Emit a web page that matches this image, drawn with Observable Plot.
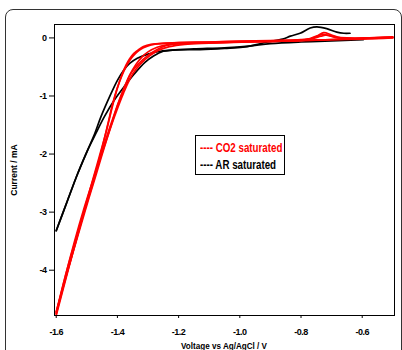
<!DOCTYPE html>
<html><head><meta charset="utf-8">
<script src="https://cdn.jsdelivr.net/npm/d3@7"></script>
<script src="https://cdn.jsdelivr.net/npm/@observablehq/plot@0.6"></script>
<style>
body{margin:0;background:#fff;}
#wrap{position:relative;width:402px;height:350px;overflow:hidden;font-family:"Liberation Sans",Arial,sans-serif;}
#chart{position:absolute;left:0;top:0;}
#chart svg text{letter-spacing:-0.5px;}
#border{position:absolute;left:5px;top:9px;width:395px;height:370px;border:1px solid #333;border-radius:8px;}
#legend{position:absolute;left:195px;top:135px;width:90px;height:40px;border:1px solid #000;background:#fff;font-weight:bold;font-size:12.5px;line-height:16.5px;padding:4px 0 0 4px;box-sizing:border-box;white-space:nowrap;}
#legend span{display:inline-block;transform:scaleX(0.78);transform-origin:0 50%;}
#ylab{position:absolute;left:14px;top:170px;transform:translate(-50%,-50%) rotate(-90deg);font-weight:bold;font-size:8.5px;white-space:nowrap;}
#xlab{position:absolute;left:224px;top:341px;transform:translateX(-50%) scaleX(0.9);font-weight:bold;font-size:9px;white-space:nowrap;}
</style></head>
<body>
<div id="wrap">
<div id="border"></div>
<div id="chart"></div>
<div id="legend"><div style="color:#f00"><span>---- CO2 saturated</span></div><div style="color:#000"><span>---- AR saturated</span></div></div>
<div id="ylab">Current / mA</div>
<div id="xlab">Voltage vs Ag/AgCl / V</div>
</div>
<script>
// tick values
const xTicks = [-1.6, -1.4, -1.2, -1.0, -0.8, -0.6];
const yTicks = [0, -1, -2, -3, -4];

// AR saturated (black)
const arCathV = [-0.597,-0.70,-0.80,-0.90,-0.97,-1.05,-1.15,-1.22,-1.25,-1.282,-1.31,-1.345,-1.378,-1.41,-1.443,-1.47,-1.498,-1.53,-1.563,-1.60];
const arCathI = [-0.03,-0.05,-0.07,-0.10,-0.14,-0.17,-0.19,-0.21,-0.23,-0.31,-0.42,-0.62,-0.84,-1.07,-1.36,-1.64,-1.94,-2.34,-2.80,-3.32];
const arAnoV = [-1.60,-1.563,-1.53,-1.498,-1.475,-1.454,-1.421,-1.40,-1.38,-1.36,-1.335,-1.30,-1.26,-1.22,-1.13,-1.05,-0.99,-0.95,-0.91,-0.86,-0.835,-0.803,-0.77,-0.748,-0.716,-0.683,-0.66,-0.64];
const arAnoI = [-3.32,-2.80,-2.34,-1.94,-1.66,-1.36,-0.96,-0.73,-0.56,-0.44,-0.35,-0.28,-0.23,-0.21,-0.20,-0.18,-0.16,-0.12,-0.07,-0.02,0.03,0.08,0.17,0.19,0.16,0.10,0.08,0.08];

// CO2 saturated (red), three cycles
const co2aCathV = [-0.50,-0.60,-0.70,-0.80,-0.90,-1.00,-1.10,-1.20,-1.24,-1.27,-1.30,-1.33,-1.356,-1.389,-1.421,-1.45,-1.48,-1.51,-1.54,-1.57,-1.60];
const co2aCathI = [0.01,-0.01,-0.03,-0.04,-0.06,-0.07,-0.08,-0.10,-0.13,-0.20,-0.30,-0.44,-0.61,-1.02,-1.48,-1.95,-2.45,-2.95,-3.50,-4.10,-4.75];
const co2aAnoV = [-1.60,-1.57,-1.54,-1.51,-1.48,-1.455,-1.432,-1.415,-1.40,-1.386,-1.372,-1.36,-1.347,-1.33,-1.315,-1.29,-1.25,-1.20,-1.10,-1.00,-0.90,-0.80,-0.77,-0.745,-0.726,-0.70,-0.67,-0.62,-0.55,-0.50];
const co2aAnoI = [-4.75,-4.15,-3.58,-3.02,-2.50,-2.00,-1.50,-1.12,-0.86,-0.66,-0.50,-0.39,-0.30,-0.22,-0.17,-0.12,-0.095,-0.08,-0.07,-0.055,-0.045,-0.03,-0.01,0.04,0.09,0.05,0.00,-0.01,0.01,0.02];
const co2bCathV = [-0.50,-0.60,-0.70,-0.80,-0.90,-1.00,-1.10,-1.18,-1.23,-1.265,-1.295,-1.325,-1.35,-1.38,-1.41,-1.44,-1.47,-1.50,-1.53,-1.565,-1.60];
const co2bCathI = [0.00,-0.02,-0.03,-0.05,-0.06,-0.07,-0.09,-0.11,-0.15,-0.21,-0.31,-0.45,-0.62,-0.95,-1.36,-1.82,-2.30,-2.82,-3.36,-4.00,-4.72];
const co2bAnoV = [-1.60,-1.565,-1.53,-1.50,-1.47,-1.445,-1.42,-1.40,-1.38,-1.36,-1.34,-1.32,-1.30,-1.27,-1.23,-1.15,-1.05,-0.95,-0.85,-0.78,-0.75,-0.73,-0.71,-0.68,-0.60,-0.52];
const co2bAnoI = [-4.72,-4.05,-3.42,-2.88,-2.36,-1.92,-1.50,-1.16,-0.88,-0.64,-0.46,-0.33,-0.24,-0.16,-0.11,-0.09,-0.08,-0.065,-0.05,-0.03,0.02,0.06,0.04,0.00,-0.01,0.00];
const co2cAnoV = [-1.60,-1.56,-1.52,-1.49,-1.46,-1.435,-1.415,-1.40,-1.385,-1.372,-1.36,-1.347,-1.33,-1.315,-1.29,-1.24,-1.18,-1.10,-1.00,-0.90,-0.80,-0.76,-0.735,-0.715,-0.69,-0.65,-0.58,-0.50];
const co2cAnoI = [-4.78,-3.98,-3.20,-2.62,-2.06,-1.58,-1.15,-0.86,-0.63,-0.47,-0.36,-0.27,-0.20,-0.15,-0.11,-0.09,-0.08,-0.07,-0.06,-0.05,-0.035,-0.01,0.03,0.05,0.02,0.00,0.00,0.01];

function toRows(vs, is, id, cond) { return vs.map((v, k) => ({V: v, I: is[k], id, cond})); }
const black = [
  ...toRows(arCathV, arCathI, "ar1", "AR"),
  ...toRows(arAnoV, arAnoI, "ar2", "AR")
];
const red = [
  ...toRows(co2aCathV, co2aCathI, "c1", "CO2"),
  ...toRows(co2aAnoV, co2aAnoI, "c2", "CO2"),
  ...toRows(co2bCathV, co2bCathI, "c3", "CO2"),
  ...toRows(co2bAnoV, co2bAnoI, "c4", "CO2"),
  ...toRows(co2cAnoV, co2cAnoI, "c5", "CO2")
];

const chart = Plot.plot({
  width: 402, height: 350,
  marginLeft: 54, marginRight: 8, marginTop: 24, marginBottom: 35,
  style: {fontFamily: '"Liberation Sans",Arial,sans-serif', fontSize: "9px", fontWeight: "bold", background: "transparent"},
  x: {domain: [-1.6056, -0.4945]},
  y: {domain: [-4.78, 0.231]},
  marks: [
    Plot.axisX({ticks: xTicks, tickFormat: d => d.toFixed(1), tickSize: 3, tickPadding: 10, label: null}),
    Plot.axisY({ticks: yTicks, tickFormat: d => String(d), tickSize: 5, tickPadding: 3, label: null}),
    Plot.line(black, {x: "V", y: "I", z: "id", stroke: "#000", strokeWidth: 1.7, curve: "catmull-rom"}),
    Plot.line(red, {x: "V", y: "I", z: "id", stroke: "#ff0000", strokeWidth: 1.7, curve: "catmull-rom"}),
    Plot.frame({stroke: "#000", strokeWidth: 1})
  ]
});
document.getElementById("chart").appendChild(chart);
</script>
</body></html>
